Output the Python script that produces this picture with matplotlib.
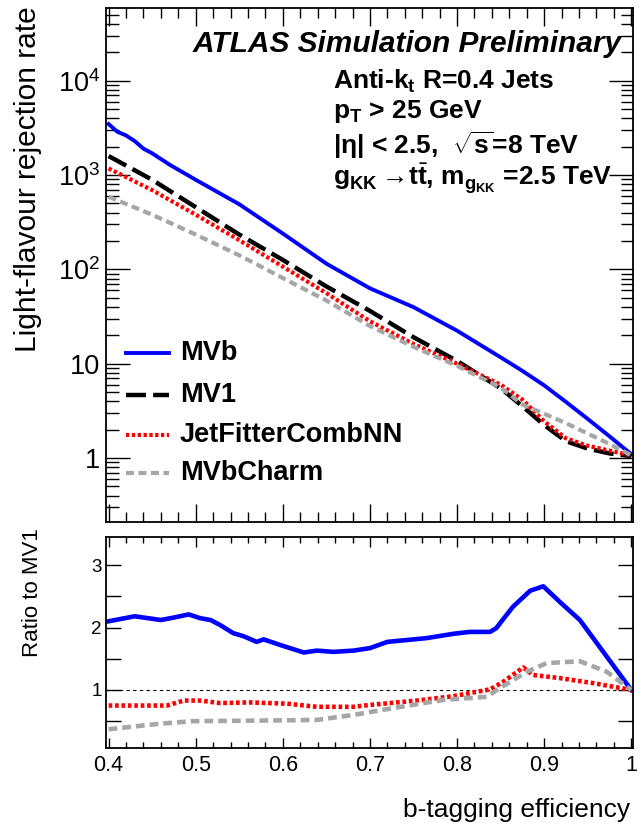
import numpy as np
import matplotlib
matplotlib.use("Agg")
import matplotlib.pyplot as plt
from matplotlib.ticker import FixedLocator, MultipleLocator, FuncFormatter, NullFormatter
from matplotlib.lines import Line2D

plt.rcParams['font.family'] = ['Liberation Sans', 'DejaVu Sans']
plt.rcParams['mathtext.fontset'] = 'custom'
plt.rcParams['mathtext.rm'] = 'Liberation Sans'
plt.rcParams['mathtext.it'] = 'Liberation Sans:italic'
plt.rcParams['mathtext.bf'] = 'Liberation Sans:bold'
plt.rcParams['mathtext.sf'] = 'Liberation Sans'

# ---------------- data ----------------
eff_mvb = [0.40, 0.41, 0.42, 0.43, 0.44, 0.45, 0.47, 0.50, 0.55, 0.60, 0.65, 0.70,
           0.75, 0.80, 0.85, 0.875, 0.90, 0.925, 0.95, 0.975, 1.00]
rej_mvb = [3470, 2880, 2630, 2290, 1905, 1700, 1288, 891, 490, 240, 115, 63,
           39.8, 22.4, 11.7, 8.4, 5.9, 3.94, 2.6, 1.70, 1.10]

eff_top = [0.40, 0.45, 0.50, 0.55, 0.60, 0.65, 0.70, 0.75, 0.80, 0.85, 0.875,
           0.90, 0.925, 0.95, 0.975, 1.00]
rej_mv1 = [1590, 891, 457, 234, 126, 66, 36.3, 19.1, 10.7, 5.5, 3.55,
           2.24, 1.51, 1.26, 1.12, 1.05]
rej_jfc = [1175, 692, 380, 204, 107, 56, 28.2, 16.2, 10.0, 6.0, 4.17,
           2.45, 1.62, 1.35, 1.20, 1.07]
rej_mvbc = [589, 380, 234, 141, 81, 46.8, 25.1, 15.1, 9.5, 5.6, 3.7,
            2.95, 2.34, 1.82, 1.41, 1.07]

ratio_mvb_x = [0.40, 0.43, 0.46, 0.475, 0.492, 0.505, 0.517, 0.528, 0.543, 0.555,
               0.570, 0.578, 0.597, 0.624, 0.639, 0.658, 0.681, 0.70, 0.72, 0.765,
               0.796, 0.815, 0.838, 0.845, 0.864, 0.884, 0.899, 0.918, 0.941, 1.00]
ratio_mvb = [2.10, 2.18, 2.12, 2.16, 2.21, 2.15, 2.12, 2.04, 1.91, 1.86,
             1.77, 1.81, 1.72, 1.60, 1.63, 1.61, 1.63, 1.67, 1.77, 1.83,
             1.90, 1.93, 1.93, 1.99, 2.33, 2.59, 2.66, 2.41, 2.12, 1.00]

ratio_jfc_x = [0.40, 0.467, 0.486, 0.505, 0.528, 0.562, 0.605, 0.639, 0.681, 0.70,
               0.754, 0.796, 0.838, 0.853, 0.876, 0.887, 0.918, 0.956, 1.00]
ratio_jfc = [0.75, 0.75, 0.83, 0.83, 0.79, 0.80, 0.78, 0.73, 0.73, 0.76,
             0.83, 0.90, 1.01, 1.13, 1.36, 1.24, 1.19, 1.11, 1.00]

ratio_mvbc_x = [0.40, 0.459, 0.497, 0.582, 0.639, 0.681, 0.727, 0.784, 0.834, 0.849,
                0.880, 0.903, 0.941, 0.972, 1.00]
ratio_mvbc = [0.37, 0.46, 0.50, 0.51, 0.52, 0.60, 0.71, 0.84, 0.89, 1.03,
              1.29, 1.43, 1.46, 1.29, 1.00]

labels = ["MVb", "MV1", "JetFitterCombNN", "MVbCharm"]
colors = ["#0000ff", "#000000", "#ff0000", "#a6a6a6"]
styles = ["-", (0, (4.5, 1.6)), (0, (0.8, 0.6)), (0, (1.9, 1.1))]
widths = [2.8, 3.2, 3.0, 3.0]

W, H = 644, 830
def fx(px): return px / W
def fy(py): return 1 - py / H

fig = plt.figure(figsize=(W / 100, H / 100), dpi=100)
ax1 = fig.add_axes([fx(106), fy(522), (633 - 106) / W, (522 - 8) / H])
ax2 = fig.add_axes([fx(106), fy(748), (633 - 106) / W, (748 - 537) / H])

# ---------------- top panel ----------------
for x, y, c, s, w in zip([eff_mvb, eff_top, eff_top, eff_top],
                         [rej_mvb, rej_mv1, rej_jfc, rej_mvbc], colors, styles, widths):
    ax1.plot(x, y, color=c, linestyle=s, linewidth=w)

ax1.set_yscale('log')
ax1.set_xlim(0.397, 1.002)
ax1.set_ylim(0.21, 5.9e4)
ax1.yaxis.set_major_locator(FixedLocator([1, 10, 100, 1000, 10000]))
minors = [m * 10.0 ** e for e in range(-1, 5) for m in range(2, 10)]
ax1.yaxis.set_minor_locator(FixedLocator(minors))
ytl = {1: "1", 10: "10", 100: "10$^{2}$", 1000: "10$^{3}$", 10000: "10$^{4}$"}
ax1.yaxis.set_major_formatter(FuncFormatter(lambda v, p: ytl.get(int(round(v)), "")))
ax1.yaxis.set_minor_formatter(NullFormatter())
ax1.xaxis.set_major_locator(MultipleLocator(0.1))
ax1.xaxis.set_minor_locator(MultipleLocator(0.02))
ax1.tick_params(axis='both', which='both', direction='in', top=True, right=True, width=1)
ax1.tick_params(axis='x', which='major', length=13, labelbottom=False)
ax1.tick_params(axis='x', which='minor', length=7)
ax1.tick_params(axis='y', which='major', length=17, labelsize=19.5, pad=4)
ax1.tick_params(axis='y', which='minor', length=9)

# ---------------- ratio panel ----------------
ax2.axhline(1.0, color='black', linewidth=0.8, linestyle=(0, (3, 3)))
for x, y, c, s, w in zip([ratio_mvb_x, ratio_jfc_x, ratio_mvbc_x],
                         [ratio_mvb, ratio_jfc, ratio_mvbc],
                         [colors[0], colors[2], colors[3]],
                         [styles[0], styles[2], styles[3]], [3.3, 3.3, 3.3]):
    ax2.plot(x, y, color=c, linestyle=s, linewidth=w)

ax2.set_xlim(0.397, 1.002)
ax2.set_ylim(0.07, 3.45)
ax2.yaxis.set_major_locator(MultipleLocator(0.5))
ax2.yaxis.set_major_formatter(FuncFormatter(
    lambda v, p: ("%d" % round(v)) if abs(v - round(v)) < 1e-6 and v > 0.5 else ""))
ax2.xaxis.set_major_locator(MultipleLocator(0.1))
ax2.xaxis.set_minor_locator(MultipleLocator(0.02))
ax2.xaxis.set_major_formatter(FuncFormatter(lambda v, p: ("%g" % round(v, 2))))
ax2.tick_params(axis='both', which='both', direction='in', top=True, right=True, width=1)
ax2.tick_params(axis='x', which='major', length=7, labelsize=15.5, pad=5)
ax2.tick_params(axis='x', which='minor', length=4)
ax2.tick_params(axis='y', which='major', length=11, labelsize=13.5, pad=3)

for ax in (ax1, ax2):
    for sp in ax.spines.values():
        sp.set_linewidth(1.3)

# ---------------- texts ----------------
fig.text(fx(28), fy(6), "Light-flavour rejection rate", rotation=90,
         ha='center', va='top', fontsize=21.5)
fig.text(fx(33), fy(528), "Ratio to MV1", rotation=90, ha='center', va='top', fontsize=16)
fig.text(fx(630), fy(817), "b-tagging efficiency", ha='right', va='baseline', fontsize=19)

fig.text(fx(622), fy(52), "ATLAS Simulation Preliminary", ha='right', va='baseline',
         fontsize=21.5, fontweight='bold', fontstyle='italic')
info = [
    (89, r"Anti-k$_{\mathbf{t}}$ R=0.4 Jets"),
    (118, r"p$_{\mathbf{T}}$ > 25 GeV"),
    (154, r"|η| < 2.5,  $\sqrt{\mathbf{s}}$=8 TeV"),
    (186, r"g$_{\mathbf{KK}}$$\rightarrow\!$t$\bar{\mathbf{t}}$, m$_{\mathbf{g_{KK}}}$ =2.5 TeV"),
]
for py, t in info:
    fig.text(fx(333), fy(py), t, ha='left', va='baseline', fontsize=19, fontweight='bold')

# legend
leg_rows = [353, 395, 435, 473]
for py, lab, c, s, w in zip(leg_rows, labels, colors, styles, widths):
    fig.add_artist(Line2D([fx(126), fx(169)], [fy(py), fy(py)], color=c,
                          linestyle=s, linewidth=w, transform=fig.transFigure))
    fig.text(fx(180), fy(py), lab, ha='left', va='center', fontsize=19.5, fontweight='bold')

fig.savefig("out.png", dpi=100)
